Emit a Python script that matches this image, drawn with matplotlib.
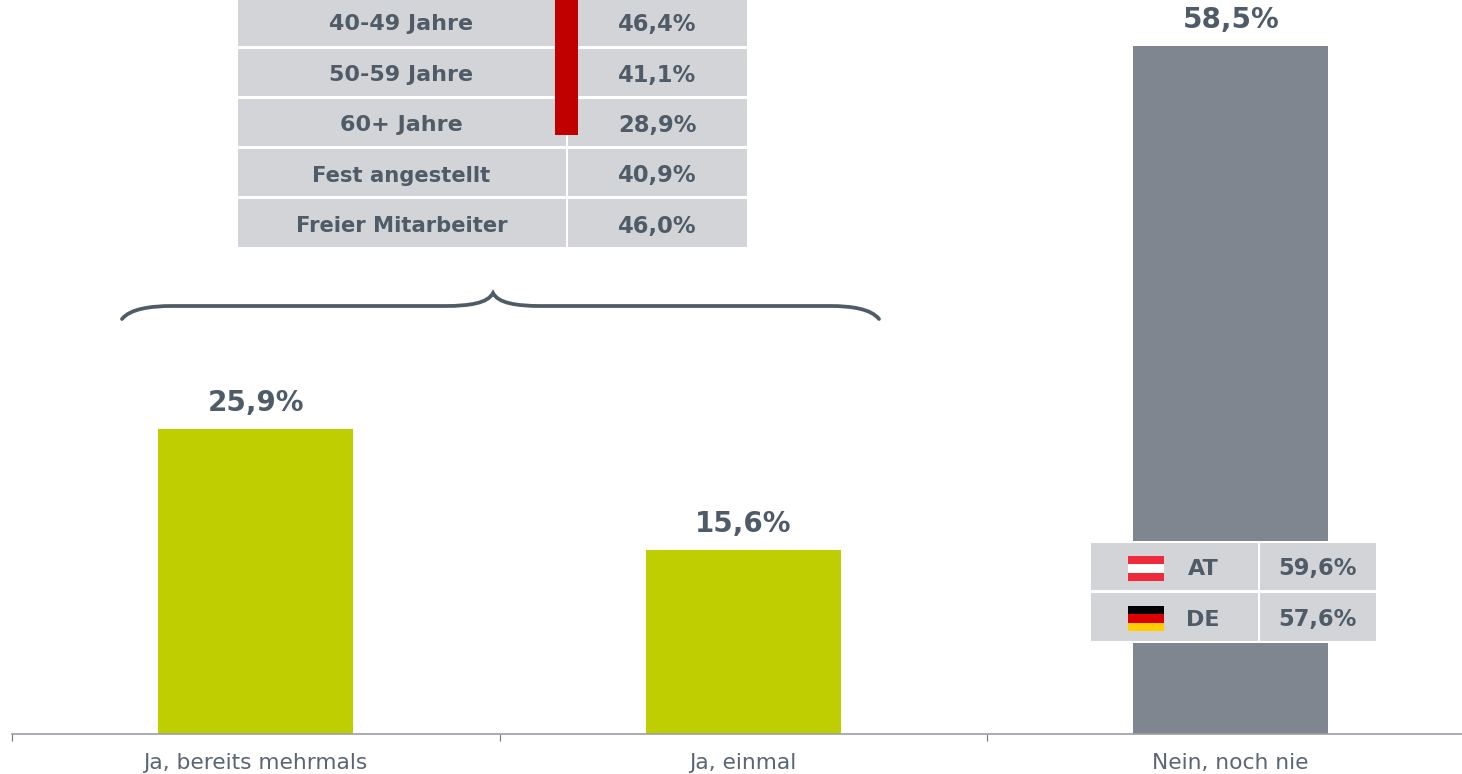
import matplotlib
matplotlib.use("Agg")
import matplotlib.pyplot as plt
from matplotlib.patches import Rectangle, PathPatch
from matplotlib.path import Path

plt.rcParams['font.family'] = ['DejaVu Sans']

categories = ['Ja, bereits mehrmals', 'Ja, einmal', 'Nein, noch nie']
values = [25.9, 15.6, 58.5]
value_labels = ['25,9%', '15,6%', '58,5%']

group_labels = ['40-49 Jahre', '50-59 Jahre', '60+ Jahre', 'Fest angestellt', 'Freier Mitarbeiter']
group_values = ['46,4%', '41,1%', '28,9%', '40,9%', '46,0%']
country_labels = ['AT', 'DE']
country_values = ['59,6%', '57,6%']

GREEN = '#bfce00'
GREY = '#80868f'
CELL = '#d2d4d8'
TEXT = '#4f5b67'
RED = '#c00000'

W, H = 1462, 774
fig = plt.figure(figsize=(W / 100, H / 100), dpi=100, facecolor='white')

# main bars
ax = fig.add_axes([12 / W, (H - 733.5) / H, (W - 12) / W, 733.5 / H])
ax.bar(range(3), values, width=0.4, color=[GREEN, GREEN, GREY], zorder=2)
ax.set_xlim(-0.5, (W - 12) / 487.5 - 0.5)
ax.set_ylim(0, 733.5 / 11.75)
for s in ['top', 'left', 'right']:
    ax.spines[s].set_visible(False)
ax.spines['bottom'].set_color('#9a9ea5')
ax.spines['bottom'].set_linewidth(1.2)
ax.set_yticks([])
ax.set_xticks(range(3))
ax.set_xticklabels(categories, fontsize=15.7, color='#5b6674')
ax.tick_params(axis='x', which='major', length=0, pad=14)
ax.set_xticks([-0.5, 0.5, 1.5], minor=True)
ax.tick_params(axis='x', which='minor', length=5, width=0.8, color='#6b737c')
for i, v in enumerate(values):
    ax.annotate(value_labels[i], (i, v), xytext=(0, 8.5), textcoords='offset points',
                ha='center', va='bottom', fontsize=20, fontweight='bold', color=TEXT)

# overlay in pixel coordinates for the tables and the brace
ov = fig.add_axes([0, 0, 1, 1], zorder=5)
ov.set_xlim(0, W)
ov.set_ylim(H, 0)
ov.axis('off')
ov.patch.set_alpha(0)

row_tops = [-3, 48.5, 98.5, 149, 199]
row_bottoms = [45.5, 96, 146, 196, 247]
label_sizes = [16, 16, 16, 15.2, 15.2]
for lab, val, y0, y1, fs in zip(group_labels, group_values, row_tops, row_bottoms, label_sizes):
    ov.add_patch(Rectangle((238, y0), 327.5, y1 - y0, fc=CELL, ec='none'))
    ov.add_patch(Rectangle((568, y0), 178.5, y1 - y0, fc=CELL, ec='none'))
    ym = (y0 + y1) / 2 + 3 if y0 > 0 else 24.5
    ov.text(401.5, ym, lab, ha='center', va='center', fontsize=fs, fontweight='bold', color=TEXT)
    ov.text(657, ym, val, ha='center', va='center', fontsize=16.3, fontweight='bold', color=TEXT)
ov.add_patch(Rectangle((555, -3), 23, 138, fc=RED, ec='none', zorder=3))

# brace
brace = Path(
    [(122, 319), (130, 309), (150, 306), (172, 306), (445, 306), (470, 306), (488, 303), (493, 293),
     (498, 303), (516, 306), (541, 306), (830, 306), (852, 306), (871, 309), (879, 319)],
    [Path.MOVETO, Path.CURVE4, Path.CURVE4, Path.CURVE4, Path.LINETO, Path.CURVE4, Path.CURVE4, Path.CURVE4,
     Path.CURVE4, Path.CURVE4, Path.CURVE4, Path.LINETO, Path.CURVE4, Path.CURVE4, Path.CURVE4])
ov.add_patch(PathPatch(brace, fc='none', ec=TEXT, lw=2.7, capstyle='round', joinstyle='miter'))

# country table on the grey bar
ov.add_patch(Rectangle((1133, 540.5), 196, 102.5, fc='white', ec='none'))
c_tops = [543, 593]
c_bottoms = [590, 641]
for lab, val, y0, y1 in zip(country_labels, country_values, c_tops, c_bottoms):
    ov.add_patch(Rectangle((1091, y0), 167, y1 - y0, fc=CELL, ec='none'))
    ov.add_patch(Rectangle((1260, y0), 116, y1 - y0, fc=CELL, ec='none'))
    ym = (y0 + y1) / 2
    ov.text(1203, ym + 2.5, lab, ha='center', va='center', fontsize=16, fontweight='bold', color=TEXT)
    ov.text(1317.5, ym + 2.5, val, ha='center', va='center', fontsize=16.3, fontweight='bold', color=TEXT)

# flags
flag_at = ['#ef2b3b', '#ffffff', '#ef2b3b']
flag_de = ['#000000', '#dd0000', '#ffce00']
for top, cols in [(556, flag_at), (606, flag_de)]:
    for k, c in enumerate(cols):
        ov.add_patch(Rectangle((1128, top + k * 25 / 3), 36, 25 / 3, fc=c, ec='none'))

fig.savefig('out.png', dpi=100)
